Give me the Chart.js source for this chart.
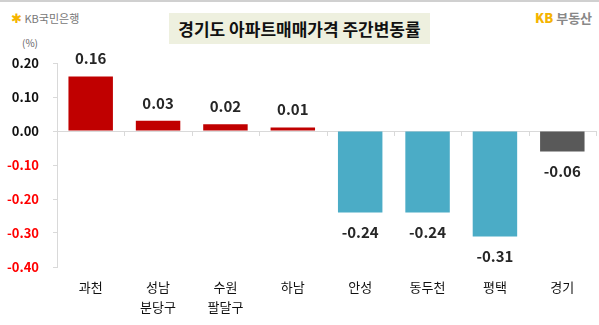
<!DOCTYPE html>
<html>
<head>
<meta charset="utf-8">
<script src="https://cdn.jsdelivr.net/npm/chart.js@4"></script>
<style>
  html, body { margin: 0; padding: 0; background: #fff; }
  body { width: 599px; height: 325px; position: relative; overflow: hidden; font-family: "Noto Sans CJK KR", "Noto Sans", sans-serif; }
  .topline { position: absolute; left: 0; top: 0; width: 599px; height: 2px; background: #d0d0d0; }
  .title { position: absolute; left: 169px; top: 13px; width: 261px; height: 31px; background: #eef0df; color: #111; font-weight: bold; font-size: 17px; line-height: 31px; text-align: center; }
  .kbbank { position: absolute; left: 11px; top: 8px; font-size: 11px; color: #777; }
  .kbbank .star { color: #f5b400; font-size: 13px; }
  .kbland { position: absolute; left: 535px; top: 8px; font-size: 13px; font-weight: bold; color: #888; }
  .kbland b { color: #f5b400; }
  .unit { position: absolute; left: 22px; top: 35px; font-size: 10px; color: #666; }
  #wrap { position: absolute; left: 0; top: 0; width: 599px; height: 325px; }
</style>
</head>
<body>
<div class="topline"></div>
<div class="kbbank"><span class="star">✱</span> KB국민은행</div>
<div class="title">경기도 아파트매매가격 주간변동률</div>
<div class="kbland"><b>KB</b> 부동산</div>
<div class="unit">(%)</div>
<div id="wrap"><canvas id="chart"></canvas></div>
<script>
// data
const regions = [['과천'], ['성남', '분당구'], ['수원', '팔달구'], ['하남'], ['안성'], ['동두천'], ['평택'], ['경기']];
const weeklyChange = [0.16, 0.03, 0.02, 0.01, -0.24, -0.24, -0.31, -0.06];
const barColors = ['#c00000', '#c00000', '#c00000', '#c00000', '#4bacc6', '#4bacc6', '#4bacc6', '#595959'];
const yTicks = [0.2, 0.1, 0, -0.1, -0.2, -0.3, -0.4];

const FONT = '"Noto Sans CJK KR", "Noto Sans", sans-serif';

// value labels above / below each bar
const valueLabels = {
    id: 'valueLabels',
    afterDatasetsDraw(chart) {
        const ctx = chart.ctx;
        const meta = chart.getDatasetMeta(0);
        ctx.save();
        ctx.font = 'bold 15px ' + FONT;
        ctx.fillStyle = '#262626';
        ctx.textAlign = 'center';
        ctx.textBaseline = 'middle';
        meta.data.forEach((bar, i) => {
            const v = weeklyChange[i];
            const y = v >= 0 ? bar.y - 18 : bar.y + 20;
            ctx.fillText(v.toFixed(2), bar.x, y);
        });
        ctx.restore();
    }
};

// small ticks on the zero line between categories
const zeroTicks = {
    id: 'zeroTicks',
    beforeDatasetsDraw(chart) {
        const ctx = chart.ctx;
        const xs = chart.scales.x;
        const y0 = chart.scales.y.getPixelForValue(0);
        ctx.save();
        ctx.strokeStyle = '#d9d9d9';
        ctx.lineWidth = 1;
        ctx.beginPath();
        for (let i = 0; i <= regions.length; i++) {
            const x = Math.round(xs.getPixelForValue(i - 0.5)) + 0.5;
            ctx.moveTo(x, y0);
            ctx.lineTo(x, y0 + 5);
        }
        ctx.stroke();
        ctx.restore();
    }
};

new Chart(document.getElementById('chart').getContext('2d'), {
    type: 'bar',
    data: {
        labels: regions,
        datasets: [{ data: weeklyChange, backgroundColor: barColors, barPercentage: 0.66, categoryPercentage: 1 }]
    },
    options: {
        responsive: true,
        maintainAspectRatio: false,
        animation: false,
        layout: { padding: { top: 63, right: 3, left: 0, bottom: 0 } },
        plugins: { legend: { display: false }, tooltip: { enabled: false } },
        scales: {
            x: {
                grid: { display: false },
                border: { display: false },
                ticks: { color: '#111', font: { family: FONT, size: 13, lineHeight: '20px' }, padding: 2, maxRotation: 0 },
                afterFit: s => { s.height = 58; }
            },
            y: {
                min: -0.4, max: 0.2,
                afterBuildTicks: s => { s.ticks = yTicks.map(v => ({ value: v })); },
                grid: {
                    drawOnChartArea: true,
                    tickLength: 4,
                    color: c => (c.tick && c.tick.value === 0) ? '#d9d9d9' : 'rgba(0,0,0,0)',
                    tickColor: '#d9d9d9'
                },
                border: { color: '#d9d9d9' },
                ticks: {
                    padding: 14,
                    font: { family: FONT, size: 13, weight: 'bold' },
                    color: c => c.tick.value < 0 ? '#ff0000' : '#111',
                    callback: v => v.toFixed(2)
                },
                afterFit: s => { s.width = 57; }
            }
        }
    },
    plugins: [valueLabels, zeroTicks]
});
</script>
</body>
</html>
